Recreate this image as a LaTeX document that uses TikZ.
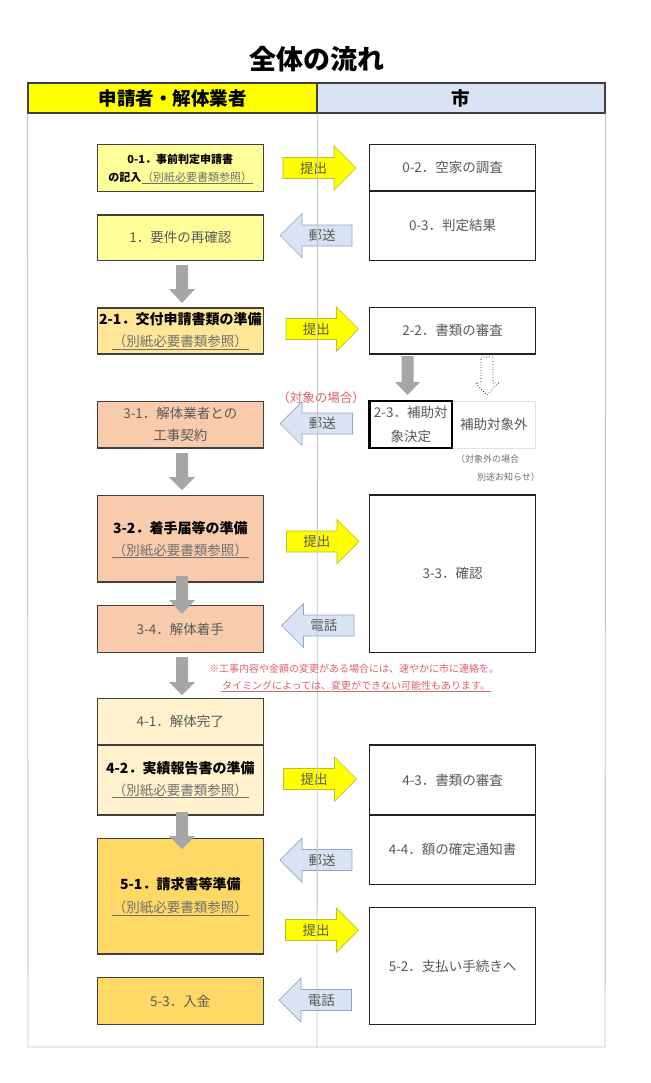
\documentclass[tikz,border=0pt]{standalone}
\usepackage{fontspec}
\setmainfont{Noto Sans CJK JP}
\definecolor{hdrY}{HTML}{FFFF00}
\definecolor{hdrB}{HTML}{DAE3F3}
\definecolor{cA}{HTML}{FFFF99}
\definecolor{cB}{HTML}{FFE699}
\definecolor{cC}{HTML}{F8CBAD}
\definecolor{cD}{HTML}{FFF2CC}
\definecolor{cE}{HTML}{FFD966}
\definecolor{txtg}{HTML}{595959}
\definecolor{subg}{HTML}{6F6F6F}
\definecolor{redt}{HTML}{E0606E}
\definecolor{yarrb}{HTML}{BDBD30}
\definecolor{barrf}{HTML}{DAE3F3}
\definecolor{barrb}{HTML}{8FA8C8}
\definecolor{garr}{HTML}{A6A6A6}
\definecolor{framec}{HTML}{C4C4C4}
\definecolor{lboxb}{HTML}{404040}
\definecolor{rboxb}{HTML}{222222}
\newcommand\rarrow[5]{%
  \draw[yarr] (#2,#4-10.5) -- (#3-22,#4-10.5) -- (#3-22,#4-22) -- (#3,#4) -- (#3-22,#4+22) -- (#3-22,#4+10.5) -- (#2,#4+10.5) -- cycle;
  \node[arrtxt] (#1) at ({(#2+#3-22)/2+5},#4) {#5};}
\newcommand\larrow[5]{%
  \draw[barr] (#2,#4) -- (#2+22,#4-22) -- (#2+22,#4-10.5) -- (#3,#4-10.5) -- (#3,#4+10.5) -- (#2+22,#4+10.5) -- (#2+22,#4+22) -- cycle;
  \node[arrtxt] (#1) at ({(#2+22+#3)/2-5},#4) {#5};}
\newcommand\darrow[7]{%
  \path[#7] (#1-#5,#2) -- (#1+#5,#2) -- (#1+#5,#3) -- (#1+#6,#3) -- (#1,#4) -- (#1-#6,#3) -- (#1-#5,#3) -- cycle;}
\begin{document}
\begin{tikzpicture}[x=1pt,y=-1pt,
  box/.style={draw=lboxb, line width=1.2pt, minimum width=166pt, inner sep=0pt, text=txtg,
    font=\fontsize{13.5}{22}\selectfont, align=center},
  rbox/.style={box, draw=rboxb, fill=white},
  hd/.style={font=\fontsize{14}{16}\selectfont\bfseries, text=black, inner sep=0pt},
  sub/.style={font=\fontsize{13.5}{16}\selectfont, text=subg, inner sep=1pt},
  uline/.style={draw=subg, line width=0.7pt},
  hdr/.style={draw=lboxb, line width=1.3pt, minimum height=30pt, inner sep=0pt,
    font=\fontsize{18.5}{20}\selectfont\bfseries},
  yarr/.style={fill=hdrY, draw=yarrb, line width=0.7pt},
  barr/.style={fill=barrf, draw=barrb, line width=0.7pt},
  arrtxt/.style={font=\fontsize{13.5}{16}\selectfont, text=txtg, inner sep=0pt},
  garrow/.style={fill=garr},
  dotarrow/.style={fill=white, draw=black, line width=0.7pt, dotted},
  rednote/.style={font=\fontsize{10}{12}\selectfont, text=redt, inner sep=1pt},
  graynote/.style={font=\fontsize{9}{11}\selectfont, text=subg, inner sep=0pt}
]
\useasboundingbox (0,0) rectangle (650,1083);
\fill[white] (0,0) rectangle (650,1083);

% title and header
\node[font=\fontsize{27}{30}\selectfont\bfseries, inner sep=0pt] (title) at (317,59) {全体の流れ};
\node[hdr, fill=hdrY, minimum width=289pt] (hL) at (172.5,98) {申請者・解体業者};
\node[hdr, fill=hdrB, minimum width=288pt] (hR) at (461,98) {市};
\draw[framec, line width=0.9pt] (hL.south west) -- (28,1047) coordinate (fbl) -- (605,1047) coordinate (fbr) -- (hR.south east);

% left column boxes
\node[box, fill=cA, minimum height=47pt] (b01) at (180.3,168) {};
\node[hd, font=\fontsize{11}{13}\selectfont\bfseries] (b01a) at (180.3,159) {0-1．事前判定申請書};
\node[hd, font=\fontsize{11}{13}\selectfont\bfseries, anchor=east] (b01b) at (141.5,177) {の記入};
\node[sub, font=\fontsize{11}{13}\selectfont, anchor=west, inner sep=0.5pt] (b01c) at (141.5,177) {（別紙必要書類参照）};
\draw[uline] (b01c.south west) -- (b01c.south east);

\node[box, fill=cA, minimum height=45.5pt] (b1) at (180.3,237.75) {1．要件の再確認};

\node[box, fill=cB, minimum height=46pt] (b21) at (180.3,331) {};
\node[hd] (b21a) at (180.3,319.5) {2-1．交付申請書類の準備};
\node[sub] (b21b) at (180.3,341.5) {（別紙必要書類参照）};
\draw[uline] (b21b.south west) -- (b21b.south east);

\node[box, fill=cC, minimum height=46.5pt] (b31) at (180.3,424.75) {3-1．解体業者との\\工事契約};

\node[box, fill=cC, minimum height=86.5pt] (b32) at (180.3,538.75) {};
\node[hd] (b32a) at (180.3,527.7) {3-2．着手届等の準備};
\node[sub] (b32b) at (180.3,550) {（別紙必要書類参照）};
\draw[uline] (b32b.south west) -- (b32b.south east);

\node[box, fill=cC, minimum height=46.8pt] (b34) at (180.3,628.9) {3-4．解体着手};

\node[box, fill=cD, minimum height=46.5pt] (b41) at (180.3,721.75) {4-1．解体完了};
\node[box, fill=cD, minimum height=70pt] (b42) at (180.3,780) {};
\node[hd] (b42a) at (180.3,768.3) {4-2．実績報告書の準備};
\node[sub] (b42b) at (180.3,790) {（別紙必要書類参照）};
\draw[uline] (b42b.south west) -- (b42b.south east);

\node[box, fill=cE, minimum height=115.7pt] (b51) at (180.3,896.15) {};
\node[hd] (b51a) at (180.3,884) {5-1．請求書等準備};
\node[sub] (b51b) at (180.3,907.3) {（別紙必要書類参照）};
\draw[uline] (b51b.south west) -- (b51b.south east);

\node[box, fill=cE, minimum height=46.6pt] (b53) at (180.3,1001) {5-3．入金};

% right column boxes
\node[rbox, minimum height=46.5pt] (r02) at (452.6,167.75) {0-2．空家の調査};
\node[rbox, minimum height=69.5pt] (r03) at (452.6,225.75) {0-3．判定結果};
\node[rbox, minimum height=46.3pt] (r22) at (452.6,330.85) {2-2．書類の審査};
\node[box, draw=black!12, line width=0.8pt, fill=white, minimum width=83.7pt, minimum height=47pt] (rno) at (493.85,424.5) {補助対象外};
\node[box, draw=black, line width=2.4pt, fill=white, minimum width=82.5pt, minimum height=47pt, font=\fontsize{13.5}{24}\selectfont] (r23) at (410.75,424.5) {2-3．補助対\\象決定};
\node[graynote] (nt1) at (487.5,459) {（対象外の場合};
\node[graynote] (nt2) at (508.5,477) {別途お知らせ）};
\node[rbox, minimum height=157.3pt] (r33) at (452.6,573.65) {3-3．確認};
\node[rbox, minimum height=70pt] (r43) at (452.6,780) {4-3．書類の審査};
\node[rbox, minimum height=69.3pt] (r44) at (452.6,849.65) {4-4．額の確定通知書};
\node[rbox, minimum height=116.6pt] (r52) at (452.6,966) {5-2．支払い手続きへ};

% horizontal arrows
\rarrow{a1}{283}{356}{168}{提出}
\larrow{a2}{280}{352}{235.5}{郵送}
\rarrow{a3}{286}{358.5}{329}{提出}
\larrow{a4}{280}{352.5}{423.5}{郵送}
\rarrow{a5}{286.5}{359}{541.5}{提出}
\larrow{a6}{281.5}{354}{625.5}{電話}
\rarrow{a7}{283.5}{356.5}{779}{提出}
\larrow{a8}{280}{352}{860}{郵送}
\rarrow{a9}{285.5}{358.5}{930}{提出}
\larrow{a10}{279}{351.5}{1000}{電話}

\node[font=\fontsize{12.5}{14}\selectfont, text=redt, inner sep=0pt] (cond) at (321,398) {（対象の場合）};

% divider line (drawn over arrows)
\draw[framec, line width=0.8pt] (hL.south east) -- (317,1047) coordinate (fbm);

% vertical gray arrows
\darrow{182}{265}{289}{303}{6}{13}{garrow}
\darrow{182}{453}{477}{490}{6}{13}{garrow}
\darrow{182}{576}{600}{614}{6}{13}{garrow}
\darrow{182}{657}{682}{695}{6}{13}{garrow}
\darrow{182}{812}{836}{849}{6}{13}{garrow}
\darrow{407.5}{356}{382}{395}{6}{12.5}{garrow}
\darrow{487}{357}{383}{395}{6}{11.5}{dotarrow}

% red notes
\node[rednote] (n1) at (354,669) {※工事内容や金額の変更がある場合には、速やかに市に連絡を。};
\node[rednote] (n2) at (356,685.5) {タイミングによっては、変更ができない可能性もあります。};
\draw[redt, line width=0.6pt] (n2.south west) -- (n2.south east);
\end{tikzpicture}
\end{document}
